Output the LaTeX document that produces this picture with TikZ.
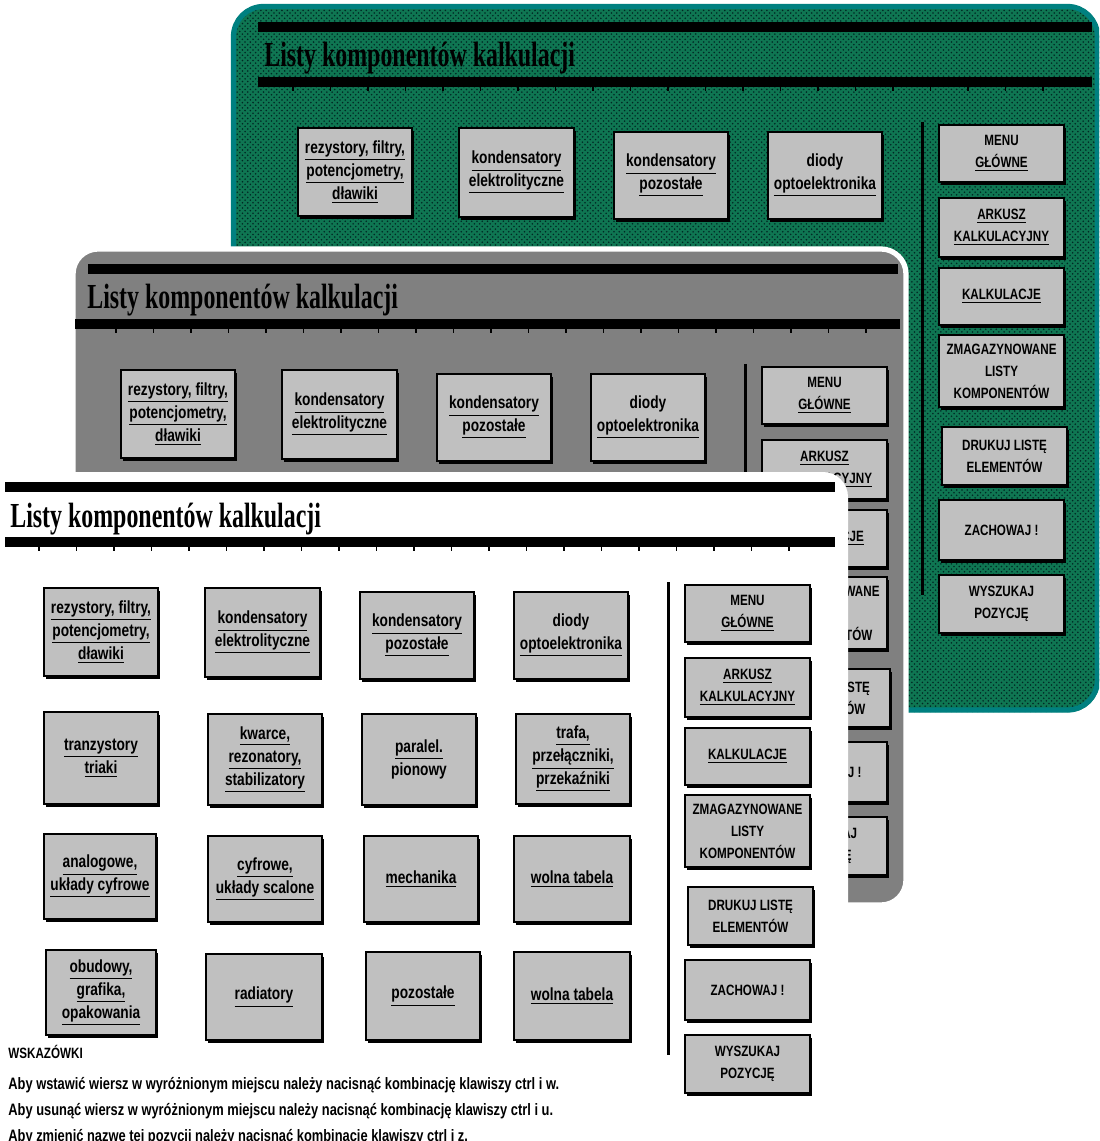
\documentclass[tikz,border=0pt]{standalone}
\usepackage{fontspec}
\usetikzlibrary{shadows,patterns}
\setmainfont{Liberation Sans}
\newfontfamily\btnfont[FakeStretch=0.78]{Liberation Sans}
\newfontfamily\headfont[FakeStretch=0.68]{Liberation Serif}

\definecolor{btnface}{HTML}{C0C0C0}
\definecolor{winmid}{HTML}{808080}
\definecolor{tealrim}{HTML}{008080}
\definecolor{greenface}{RGB}{15,118,82}
\definecolor{greendot}{RGB}{0,40,36}

\tikzset{
  btn/.style={draw=black, line width=0.9pt, fill=btnface, inner sep=1pt, align=center,
    font=\btnfont\bfseries\fontsize{10}{13}\selectfont,
    drop shadow={shadow xshift=0.04cm, shadow yshift=-0.06cm, fill=black, opacity=1}},
  capbtn/.style={btn, font=\btnfont\bfseries\fontsize{8.5}{12.5}\selectfont},
  sep/.style={line width=1.7pt},
  title/.style={anchor=base west, inner sep=0pt, font=\headfont\bfseries\fontsize{20}{24}\selectfont},
  note/.style={anchor=base west, inner sep=0pt, font=\btnfont\bfseries\fontsize{9.4}{11}\selectfont},
}

% a push button given by its corners (left, top, right, bottom) in pixel units
\newcommand\btn[7][btn]{%
  \node[#1, minimum width={(#5-#3)*0.02cm}, minimum height={(#6-#4)*0.02cm}]
    (#2) at ({(#3+#5)/2},{(#4+#6)/2}) {#7};}
\newcommand\ulk[1]{\underline{#1}}

% header, first row of categories and the command column of one window
% #1 name prefix, #2/#3 top bar ends, #4/#5 ruler bar ends
\newcommand\panel[5]{%
  \fill (#2,482) rectangle (#3,492);
  \node[title] (#1-title) at (10,527) {Listy komponentów kalkulacji};
  \fill (#4,537) rectangle (#5,547);
  \foreach \t in {39,76.5,...,825} {\draw[line width=0.6pt] (\t,547) -- (\t,551);}
  \btn{#1-r1c1}{44}{588}{158}{676}{\ulk{rezystory, filtry,}\\\ulk{potencjometry,}\\\ulk{dławiki}}
  \btn{#1-r1c2}{205}{588}{320}{677}{\ulk{kondensatory}\\\ulk{elektrolityczne}}
  \btn{#1-r1c3}{360}{592}{474}{679}{\ulk{kondensatory}\\\ulk{pozostałe}}
  \btn{#1-r1c4}{514}{592}{628}{679}{diody\\\ulk{optoelektronika}}
  \draw[sep] (668,582) -- (668,1055);
  \btn[capbtn]{#1-menu}{685}{585}{810}{642}{MENU\\\ulk{GŁÓWNE}}
  \btn[capbtn]{#1-sheet}{685}{658}{810}{717}{\ulk{ARKUSZ}\\\ulk{KALKULACYJNY}}
  \btn[capbtn]{#1-calc}{685}{728}{810}{785}{\ulk{KALKULACJE}}
  \btn[capbtn]{#1-store}{685}{795}{810}{867}{ZMAGAZYNOWANE\\LISTY\\KOMPONENTÓW}
  \btn[capbtn]{#1-print}{688}{887}{813}{945}{DRUKUJ LISTĘ\\ELEMENTÓW}
  \btn[capbtn]{#1-save}{685}{960}{810}{1020}{ZACHOWAJ !}
  \btn[capbtn]{#1-find}{685}{1035}{810}{1093}{WYSZUKAJ\\POZYCJĘ}
}

\begin{document}
\begin{tikzpicture}[x=0.02cm, y=-0.02cm]
\useasboundingbox (0,0) rectangle (1099,1141);
\clip (0,0) rectangle (1099,1141);
\fill[white] (0,0) rectangle (1099,1141);

% back window (green)
\fill[greenface, rounded corners=0.6cm] (232,5) rectangle (1099,712);
\fill[pattern=crosshatch dots, pattern color=greendot, rounded corners=0.6cm] (232,5) rectangle (1099,712);
\draw[tealrim, line width=3pt, rounded corners=0.6cm] (233.5,6.5) rectangle (1097.5,710);
\begin{scope}[shift={(254,-460)}]
  \panel{g}{4}{838}{4}{838}
\end{scope}

% middle window (grey)
\filldraw[fill=winmid, draw=white, line width=3pt, rounded corners=0.5cm] (73,249) rectangle (906,905);
\begin{scope}[shift={(77,-218)}]
  \panel{m}{11}{821}{-2}{823}
\end{scope}

% front window (white)
\fill[white, rounded corners=0.5cm] (-20,472) rectangle (848,1160);
\panel{f}{5}{835}{5}{835}

\btn{f-r2c1}{44}{712}{158}{804}{\ulk{tranzystory}\\\ulk{triaki}}
\btn{f-r2c2}{208}{714}{322}{805}{\ulk{kwarce,}\\\ulk{rezonatory,}\\\ulk{stabilizatory}}
\btn{f-r2c3}{362}{714}{476}{805}{\ulk{paralel.}\\pionowy}
\btn{f-r2c4}{516}{714}{630}{804}{\ulk{trafa,}\\\ulk{przełączniki,}\\\ulk{przekaźniki}}

\btn{f-r3c1}{44}{834}{156}{919}{\ulk{analogowe,}\\\ulk{układy cyfrowe}}
\btn{f-r3c2}{208}{836}{322}{922}{\ulk{cyfrowe,}\\\ulk{układy scalone}}
\btn{f-r3c3}{364}{836}{478}{922}{\ulk{mechanika}}
\btn{f-r3c4}{514}{836}{630}{922}{\ulk{wolna tabela}}

\btn{f-r4c1}{46}{950}{156}{1035}{\ulk{obudowy,}\\\ulk{grafika,}\\\ulk{opakowania}}
\btn{f-r4c2}{206}{954}{322}{1040}{\ulk{radiatory}}
\btn{f-r4c3}{366}{952}{480}{1040}{\ulk{pozostałe}}
\btn{f-r4c4}{514}{952}{630}{1040}{\ulk{wolna tabela}}

% hints under the grid
\node[note, font=\btnfont\bfseries\fontsize{8.5}{10}\selectfont] (hint) at (8,1058) {WSKAZÓWKI};
\node[note] (hint1) at (8,1089) {Aby wstawić wiersz w wyróżnionym miejscu należy nacisnąć kombinację klawiszy ctrl i w.};
\node[note] (hint2) at (8,1115) {Aby usunąć wiersz w wyróżnionym miejscu należy nacisnąć kombinację klawiszy ctrl i u.};
\node[note] (hint3) at (8,1141) {Aby zmienić nazwę tej pozycji należy nacisnąć kombinację klawiszy ctrl i z.};
\end{tikzpicture}
\end{document}
